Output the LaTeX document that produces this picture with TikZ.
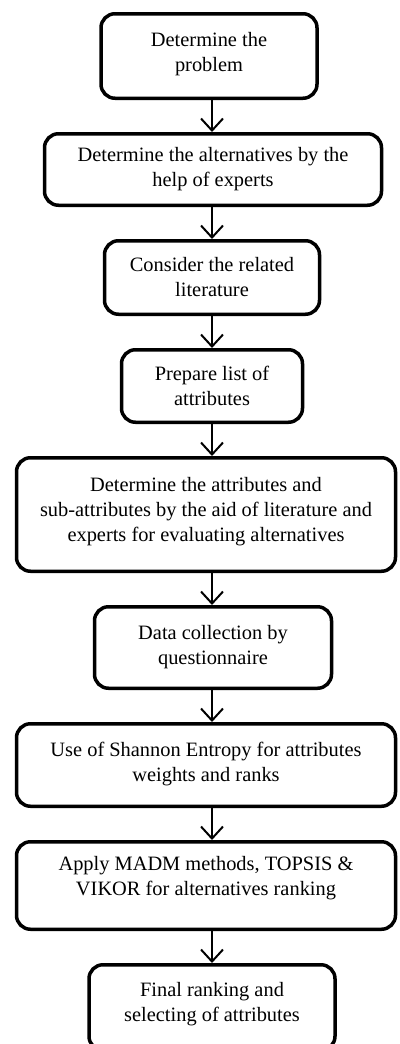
\documentclass[tikz,border=0pt]{standalone}
\usepackage{fontspec}
\setmainfont{Liberation Serif}
\usetikzlibrary{positioning, arrows.meta}

\tikzset{
	stage/.style={draw, line width=3.5pt, rounded corners=14pt, align=center,
		font=\fontsize{20.4}{25}\selectfont, inner sep=4pt},
	flow/.style={-{Straight Barb[length=12pt,width=22pt]}, line width=2pt},
}

\begin{document}
\begin{tikzpicture}[node distance=32pt]
	\useasboundingbox (0,0) rectangle (399pt,-1044pt);
	\coordinate (axis) at (212pt,0);

	\node[stage, minimum width=216pt, minimum height=84.5pt] (problem) at (209pt,-56pt) {Determine the\\problem\\[-17pt]};
	\node[stage, minimum width=337pt, minimum height=71.5pt, below=of problem, xshift=4pt] (alternatives) {Determine the alternatives by the\\help of experts};
	\node[stage, minimum width=215pt, minimum height=73.5pt, below=of alternatives, xshift=-1pt] (literature) {Consider the related\\literature};
	\node[stage, minimum width=181pt, minimum height=72.5pt, below=of literature] (attrlist) {Prepare list of\\attributes};
	\node[stage, minimum width=379pt, minimum height=113.5pt, below=of attrlist, xshift=-6pt] (subattr) {Determine the attributes and\\sub-attributes by the aid of literature and\\experts for evaluating alternatives\\[-15pt]};
	\node[stage, minimum width=237pt, minimum height=81.5pt, below=of subattr, xshift=7pt] (collection) {Data collection by\\questionnaire\\[-20pt]};
	\node[stage, minimum width=379pt, minimum height=82.5pt, below=of collection, xshift=-7pt] (entropy) {Use of Shannon Entropy for attributes\\weights and ranks\\[-19pt]};
	\node[stage, minimum width=379pt, minimum height=87.5pt, below=of entropy] (madm) {Apply MADM methods, TOPSIS \&\\VIKOR for alternatives ranking\\[-5pt]};
	\node[stage, minimum width=246pt, minimum height=85.5pt, below=of madm, xshift=6pt] (ranking) {Final ranking and\\selecting of attributes\\[-14pt]};

	\foreach \a/\b in {problem/alternatives, alternatives/literature, literature/attrlist,
		attrlist/subattr, subattr/collection, collection/entropy, entropy/madm, madm/ranking}
		\draw[flow] (\a.south -| axis) -- (\b.north -| axis);

\end{tikzpicture}
\end{document}
